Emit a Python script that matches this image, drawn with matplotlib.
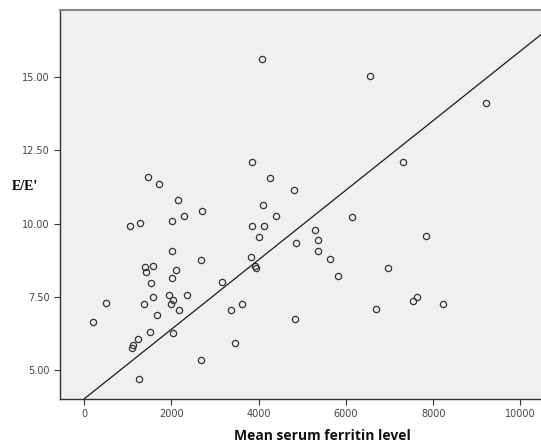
import numpy as np
from matplotlib import pyplot as plt

# values
ferritin = [4085, 3856, 4261, 1466, 1718, 2154, 4108, 2703, 4391, 6552,
            9203, 7308, 4804, 6140, 1054, 1275, 2016, 2291, 3856, 4131,
            4002, 2016, 2688, 3819, 3918, 3933, 1397, 1428, 1581, 2108,
            2016, 1528, 3162, 1940, 2046, 1573, 2367, 1993, 1382, 504,
            2169, 3375, 3620, 1680, 214, 1505, 2032, 1245, 1130, 1092,
            3467, 2688, 1268, 5286, 5354, 5369, 4857, 5636, 5812, 7829,
            6964, 7636, 7537, 8224, 6683, 4827]
ee_ratio = [15.63, 12.09, 11.56, 11.58, 11.36, 10.79, 10.64, 10.43, 10.27, 15.06,
            14.11, 12.10, 11.14, 10.21, 9.93, 10.03, 10.10, 10.24, 9.93, 9.93,
            9.53, 9.05, 8.76, 8.85, 8.54, 8.47, 8.51, 8.34, 8.56, 8.42,
            8.13, 7.97, 8.01, 7.56, 7.40, 7.49, 7.55, 7.26, 7.25, 7.28,
            7.03, 7.04, 7.26, 6.86, 6.64, 6.30, 6.24, 6.05, 5.85, 5.73,
            5.93, 5.33, 4.69, 9.78, 9.44, 9.05, 9.35, 8.78, 8.21, 9.59,
            8.49, 7.50, 7.35, 7.26, 7.08, 6.73]

fit_intercept = 4.0
fit_slope = 0.00119

xticks = [0, 2000, 4000, 6000, 8000, 10000]
yticks = [5.0, 7.5, 10.0, 12.5, 15.0]

fig = plt.figure(figsize=(5.41, 4.45), dpi=100)
ax = fig.add_axes([60/541, 1 - 399/445, 481/541, 389/445])
ax.set_facecolor('#f0f0f0')

ax.plot(ferritin, ee_ratio, 'o', ms=4.5, mfc='none', mec='#333333', mew=0.9)

xl = np.array([0, 10600])
ax.plot(xl, fit_intercept + fit_slope*xl, color='#1a1a1a', lw=0.9)

ax.set_xlim(-550, 10470)
ax.set_ylim(4.0, 17.3)
ax.set_xticks(xticks)
ax.set_xticklabels([str(x) for x in xticks])
ax.set_yticks(yticks)
ax.set_yticklabels(['{:.2f}'.format(y) for y in yticks])
ax.tick_params(labelsize=7, labelcolor='#444444', color='#333333', length=4, width=0.8)

for s in ['left', 'bottom']:
    ax.spines[s].set_color('#333333')
    ax.spines[s].set_linewidth(1.0)
ax.spines['top'].set_color('#888888')
ax.spines['top'].set_linewidth(1.5)
ax.spines['right'].set_visible(False)

fig.text(25/541, 1 - 187/445, "E/E'", family='Liberation Serif', weight='bold',
         fontsize=10, ha='center', va='center')
fig.text(322/541, 1 - 436/445, 'Mean serum ferritin level', family='Open Sans',
         weight='bold', fontsize=10, ha='center', va='center', color='#111111')

plt.savefig('out.png')
